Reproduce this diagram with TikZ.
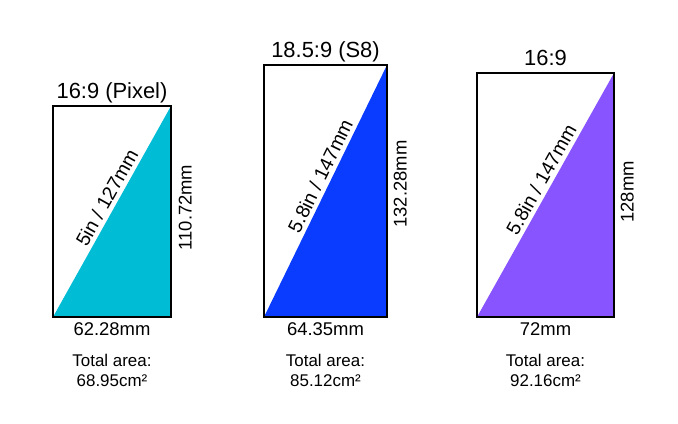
\documentclass[tikz,border=0pt]{standalone}
\usepackage{fontspec}
\setmainfont{Liberation Sans}
\usepackage{xcolor}
\usetikzlibrary{positioning,calc}

\definecolor{pixcyan}{HTML}{00BCD4}
\definecolor{sblue}{HTML}{0A3CFF}
\definecolor{wpurple}{HTML}{8854FF}

\begin{document}
\begin{tikzpicture}[x=1bp, y=-1bp,
  scr/.style={draw, line width=1.5bp, inner sep=0pt, outer sep=0pt,
    path picture={\fill[#1] (path picture bounding box.south west) -- (path picture bounding box.north east) -- (path picture bounding box.south east) -- cycle;}},
  ttl/.style={inner sep=1bp, text depth=4.6bp, font=\fontsize{22}{26}\selectfont},
  dim/.style={inner sep=1bp, font=\fontsize{18.5}{22}\selectfont},
  diag/.style={sloped, above, pos=0.54, inner sep=4bp, font=\fontsize{19.5}{23}\selectfont},
  area/.style={align=center, inner sep=1bp, font=\fontsize{17}{20}\selectfont}]
\useasboundingbox (0,0) rectangle (678,423);

% 16:9 Pixel
\node[scr=pixcyan, minimum width=118bp, minimum height=211bp] (pixel) at (112,211.5) {};
\path (pixel.south west) -- node[diag] (pixel-d) {5in / 127mm} (pixel.north east);
\node[ttl, above=1.4bp of pixel] (pixel-t) {16:9 (Pixel)};
\node[dim, right=6.5bp of pixel, yshift=4bp, rotate=90, anchor=north] (pixel-h) {110.72mm};
\node[dim, below=4bp of pixel] (pixel-w) {62.28mm};
\node[area, below=17bp of pixel-w] (pixel-a) {Total area:\\68.95cm²};

% 18.5:9 S8
\node[scr=sblue, minimum width=123bp, minimum height=252bp] (galaxy) at (325.5,191) {};
\path (galaxy.south west) -- node[diag] (galaxy-d) {5.8in / 147mm} (galaxy.north east);
\node[ttl, above=1.4bp of galaxy] (galaxy-t) {18.5:9 (S8)};
\node[dim, right=5.5bp of galaxy, yshift=7bp, rotate=90, anchor=north] (galaxy-h) {132.28mm};
\node[dim, below=4bp of galaxy] (galaxy-w) {64.35mm};
\node[area, below=17bp of galaxy-w] (galaxy-a) {Total area:\\85.12cm²};

% 16:9 at same diagonal
\node[scr=wpurple, minimum width=137bp, minimum height=244bp] (wide) at (545.5,195) {};
\path (wide.south west) -- node[diag] (wide-d) {5.8in / 147mm} (wide.north east);
\node[ttl, above=1.4bp of wide] (wide-t) {16:9};
\node[dim, right=5.5bp of wide, yshift=3bp, rotate=90, anchor=north] (wide-h) {128mm};
\node[dim, below=4bp of wide] (wide-w) {72mm};
\node[area, below=17bp of wide-w] (wide-a) {Total area:\\92.16cm²};
\end{tikzpicture}
\end{document}
